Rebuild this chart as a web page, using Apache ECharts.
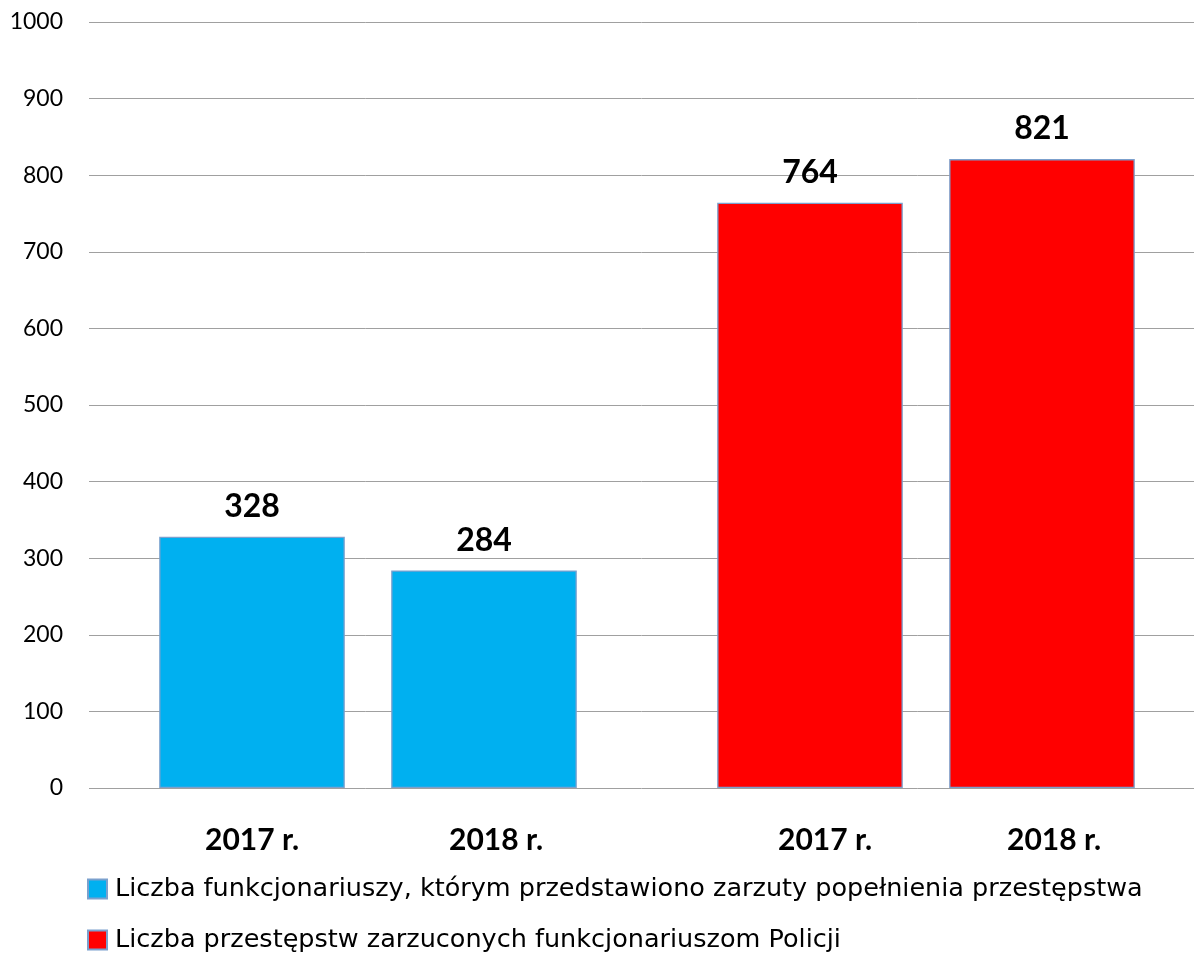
<!DOCTYPE html>
<html>
<head>
<meta charset="utf-8">
<script src="https://cdn.jsdelivr.net/npm/echarts@6/dist/echarts.min.js"></script>
<style>
  html, body { margin: 0; padding: 0; background: #fff; }
  #main { width: 1194px; height: 961px; }
</style>
</head>
<body>
<div id="main"></div>
<script>
var years = ['2017 r.', '2018 r.'];
var officers = [328, 284];
var crimes = [764, 821];
var seriesNames = [
  'Liczba funkcjonariuszy, którym przedstawiono zarzuty popełnienia przestępstwa',
  'Liczba przestępstw zarzuconych funkcjonariuszom Policji'
];

var font = 'Lato';
var chart = echarts.init(document.getElementById('main'));

function hiddenY(i) {
  return { type: 'value', gridIndex: i, min: 0, max: 1000, interval: 100, show: false };
}

function yearAxis(i, shifts) {
  return {
    type: 'category',
    gridIndex: i,
    data: years.map(function (y, k) {
      return { value: y, textStyle: { padding: [0, 0, 0, shifts[k]] } };
    }),
    axisLine: { show: false },
    axisTick: { show: false },
    axisLabel: {
      margin: 37,
      color: '#000',
      fontFamily: font,
      fontWeight: 'bold',
      fontSize: 30
    }
  };
}

function barSeries(name, values, color, i) {
  return {
    name: name,
    type: 'bar',
    xAxisIndex: i,
    yAxisIndex: i,
    data: values,
    barCategoryGap: '20%',
    itemStyle: { color: color, borderColor: '#7ba0cd', borderWidth: 1.3 },
    label: {
      show: true,
      position: 'top',
      distance: 14,
      color: '#000',
      fontFamily: font,
      fontWeight: 'bold',
      fontSize: 32
    }
  };
}

option = {
  animation: false,
  backgroundColor: '#fff',
  grid: [
    { left: 89, right: 0, top: 22, bottom: 173 },
    { left: 136, width: 464, top: 22, bottom: 173 },
    { left: 694, width: 464, top: 22, bottom: 173 }
  ],
  legend: {
    orient: 'vertical',
    left: 87,
    top: 876,
    height: 85,
    padding: 0,
    itemWidth: 19,
    itemHeight: 19,
    itemGap: 25,
    icon: 'rect',
    data: seriesNames,
    textStyle: { color: '#000', fontFamily: 'DejaVu Sans', fontSize: 25.5, padding: [0, 0, 0, 3] }
  },
  xAxis: [
    { type: 'category', gridIndex: 0, data: [''], show: false },
    yearAxis(1, [0, 24]),
    yearAxis(2, [30, 24])
  ],
  yAxis: [
    {
      type: 'value',
      gridIndex: 0,
      min: 0,
      max: 1000,
      interval: 100,
      axisLine: { show: false },
      axisTick: { show: false },
      axisLabel: {
        margin: 26,
        color: '#000',
        fontFamily: font,
        fontSize: 23,
        formatter: function (v) { return String(v); }
      },
      splitLine: { lineStyle: { color: '#a0a0a0', width: 1 } }
    },
    hiddenY(1),
    hiddenY(2)
  ],
  series: [
    barSeries(seriesNames[0], officers, '#00b0f0', 1),
    barSeries(seriesNames[1], crimes, '#ff0000', 2)
  ]
};

chart.setOption(option);
</script>
</body>
</html>
